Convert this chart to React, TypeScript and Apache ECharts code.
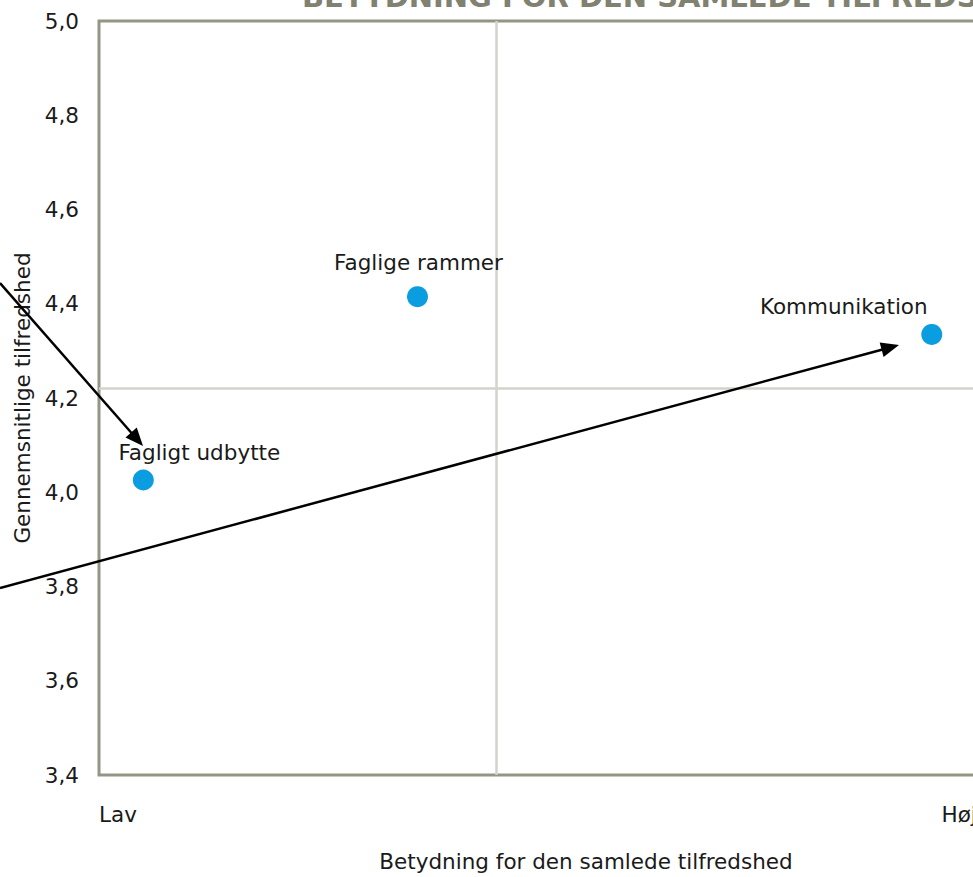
import React, { useEffect, useRef } from "react";
import * as echarts from "echarts";

// ---- data ----
const pointNames = ["Fagligt udbytte", "Faglige rammer", "Kommunikation"];
const importance = [0.455, 3.27, 8.55];
const satisfaction = [4.026, 4.415, 4.335];
const xTickLabels = ["Lav", "Høj"];
const yMin = 3.4;
const yMax = 5.0;
const yStep = 0.2;
const xMin = 0;
const xMax = 10;
const xTickStep = 8.65;
const meanImportance = 4.08;
const meanSatisfaction = 4.218;
const titleText = "BETYDNING FOR DEN SAMLEDE TILFREDSHED";
const xAxisName = "Betydning for den samlede tilfredshed";
const yAxisName = "Gennemsnitlige tilfredshed";

// ---- styling / annotation layout ----
const CHART_W = 1080;
const FS = 21.5;
const labelOffsets = [
  [56, -27],
  [1, -34],
  [-88, -28],
];
const arrows = [
  { from: [0, 283], to: [143, 446] },
  { from: [0, 588], to: [899, 345] },
];
const FONT = '"DejaVu Sans", Verdana, sans-serif';

function arrowGraphics() {
  const els: any[] = [];
  arrows.forEach((a) => {
    const [x1, y1] = a.from;
    const [x2, y2] = a.to;
    const dx = x2 - x1;
    const dy = y2 - y1;
    const len = Math.sqrt(dx * dx + dy * dy);
    const ux = dx / len;
    const uy = dy / len;
    const headLen = 18;
    const headW = 7.5;
    const bx = x2 - ux * headLen;
    const by = y2 - uy * headLen;
    els.push({
      type: "line",
      shape: { x1, y1, x2: bx + ux * 2, y2: by + uy * 2 },
      style: { stroke: "#000", lineWidth: 2.5 },
      z: 100,
    });
    els.push({
      type: "polygon",
      shape: {
        points: [
          [x2, y2],
          [bx - uy * headW, by + ux * headW],
          [bx + uy * headW, by - ux * headW],
        ],
      },
      style: { fill: "#000" },
      z: 100,
    });
  });
  return els;
}

export default function App() {
  const ref = useRef<HTMLDivElement>(null);

  useEffect(() => {
    if (!ref.current) return;
    const chart = echarts.init(ref.current, undefined, { renderer: "svg" });
    const option: any = {
      animation: false,
      backgroundColor: "#fff",
      grid: {
        left: 99,
        top: 21,
        right: CHART_W - 1073,
        bottom: 99,
        show: true,
        borderColor: "#959585",
        borderWidth: 3,
        backgroundColor: "transparent",
        containLabel: false,
      },
      xAxis: {
        type: "value",
        min: xMin,
        max: xMax,
        interval: xTickStep,
        name: xAxisName,
        nameLocation: "middle",
        nameGap: 75,
        nameTextStyle: { fontSize: FS, color: "#1a1a1a", fontFamily: FONT },
        axisLine: { show: false },
        axisTick: { show: false },
        splitLine: { show: false },
        axisLabel: {
          align: "left",
          margin: 28,
          fontSize: FS,
          color: "#1a1a1a",
          fontFamily: FONT,
          formatter: (_v: number, idx: number) => xTickLabels[idx] ?? "",
        },
      },
      yAxis: {
        type: "value",
        min: yMin,
        max: yMax,
        interval: yStep,
        name: yAxisName,
        nameLocation: "middle",
        nameGap: 64,
        nameTextStyle: { fontSize: FS, color: "#1a1a1a", fontFamily: FONT },
        axisLine: { show: false },
        axisTick: { show: false },
        splitLine: { show: false },
        axisLabel: {
          margin: 20,
          fontSize: FS,
          color: "#1a1a1a",
          fontFamily: FONT,
          formatter: (v: number) => v.toFixed(1).replace(".", ","),
        },
      },
      series: [
        {
          type: "scatter",
          symbol: "circle",
          symbolSize: 21,
          itemStyle: { color: "#0a9ee0", opacity: 1 },
          label: {
            show: true,
            position: "inside",
            formatter: "{b}",
            fontSize: FS,
            color: "#1a1a1a",
            fontFamily: FONT,
          },
          data: pointNames.map((name, i) => ({
            name,
            value: [importance[i], satisfaction[i]],
            label: { offset: labelOffsets[i] },
          })),
          markLine: {
            silent: true,
            symbol: ["none", "none"],
            label: { show: false },
            lineStyle: { color: "#d3d3cb", width: 2.5, type: "solid" },
            data: [{ xAxis: meanImportance }, { yAxis: meanSatisfaction }],
          },
          z: 10,
        },
      ],
      graphic: [
        {
          type: "text",
          x: 302,
          y: -3,
          style: {
            text: titleText,
            fontSize: 29,
            fontWeight: "bold",
            fontFamily: FONT,
            fill: "#818172",
            align: "left",
            verticalAlign: "middle",
          },
        },
        ...arrowGraphics(),
      ],
    };
    chart.setOption(option);
    return () => chart.dispose();
  }, []);

  return (
    <div style={{ position: "absolute", left: 0, top: 0, width: 973, height: 877, overflow: "hidden" }}>
      <div ref={ref} style={{ width: CHART_W, height: 877 }} />
    </div>
  );
}
